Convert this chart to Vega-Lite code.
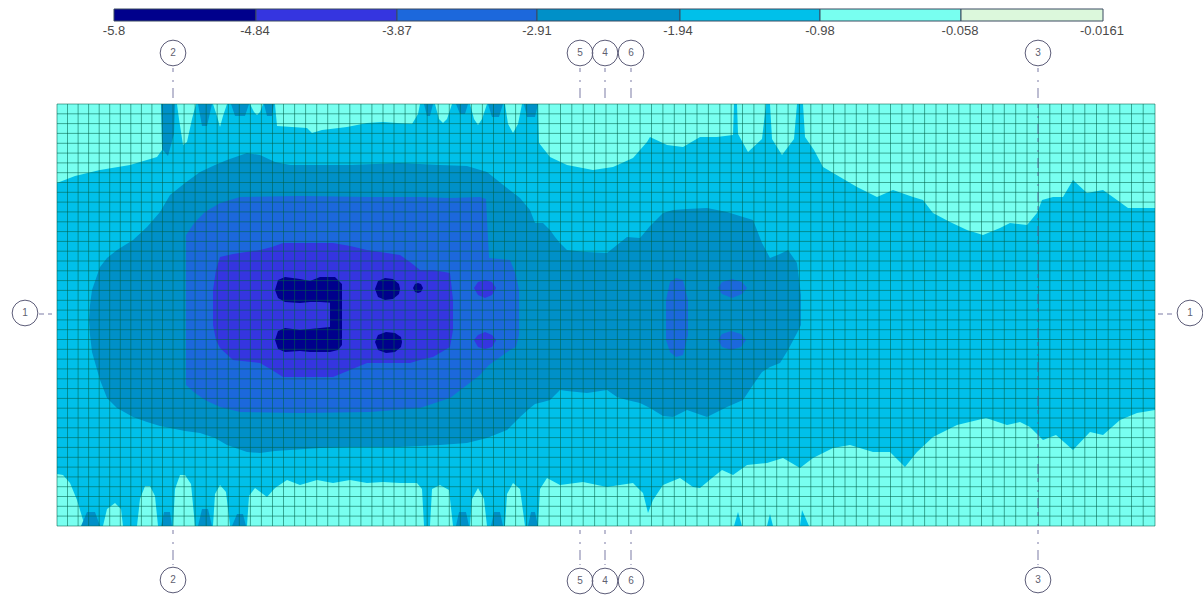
{"$schema":"https://vega.github.io/schema/vega-lite/v6.json","width":1203,"height":599,"padding":0,"autosize":"none","background":"#ffffff","config":{"view":{"stroke":null}},
"datasets":{
"contours":[
{"g":"base","b":"-1.94","x":0,"y":0,"y2":422},{"g":"base","b":"-1.94","x":1098,"y":0,"y2":422},
{"g":"lt","b":"-0.98","x":0,"y":0,"y2":79},{"g":"lt","b":"-0.98","x":18,"y":0,"y2":72},{"g":"lt","b":"-0.98","x":43,"y":0,"y2":66},{"g":"lt","b":"-0.98","x":73,"y":0,"y2":61},{"g":"lt","b":"-0.98","x":100,"y":0,"y2":53},{"g":"lt","b":"-0.98","x":105,"y":0,"y2":46},{"g":"lt","b":"-0.98","x":106,"y":0,"y2":0},{"g":"lt","b":"-0.98","x":120,"y":0,"y2":0},{"g":"lt","b":"-0.98","x":122,"y":0,"y2":15},{"g":"lt","b":"-0.98","x":126,"y":0,"y2":41},{"g":"lt","b":"-0.98","x":130,"y":0,"y2":38},{"g":"lt","b":"-0.98","x":135,"y":0,"y2":15},{"g":"lt","b":"-0.98","x":139,"y":0,"y2":0},{"g":"lt","b":"-0.98","x":156,"y":0,"y2":0},{"g":"lt","b":"-0.98","x":160,"y":0,"y2":12},{"g":"lt","b":"-0.98","x":163,"y":0,"y2":23},{"g":"lt","b":"-0.98","x":166,"y":0,"y2":12},{"g":"lt","b":"-0.98","x":170,"y":0,"y2":0},{"g":"lt","b":"-0.98","x":193,"y":0,"y2":0},{"g":"lt","b":"-0.98","x":197,"y":0,"y2":8},{"g":"lt","b":"-0.98","x":200,"y":0,"y2":11},{"g":"lt","b":"-0.98","x":203,"y":0,"y2":8},{"g":"lt","b":"-0.98","x":206,"y":0,"y2":0},{"g":"lt","b":"-0.98","x":218,"y":0,"y2":0},{"g":"lt","b":"-0.98","x":220,"y":0,"y2":22},{"g":"lt","b":"-0.98","x":250,"y":0,"y2":24},{"g":"lt","b":"-0.98","x":255,"y":0,"y2":29},{"g":"lt","b":"-0.98","x":265,"y":0,"y2":26},{"g":"lt","b":"-0.98","x":290,"y":0,"y2":23},{"g":"lt","b":"-0.98","x":310,"y":0,"y2":19},{"g":"lt","b":"-0.98","x":326,"y":0,"y2":18},{"g":"lt","b":"-0.98","x":340,"y":0,"y2":19},{"g":"lt","b":"-0.98","x":355,"y":0,"y2":20},{"g":"lt","b":"-0.98","x":361,"y":0,"y2":10},{"g":"lt","b":"-0.98","x":363,"y":0,"y2":0},{"g":"lt","b":"-0.98","x":378,"y":0,"y2":0},{"g":"lt","b":"-0.98","x":382,"y":0,"y2":15},{"g":"lt","b":"-0.98","x":386,"y":0,"y2":19},{"g":"lt","b":"-0.98","x":390,"y":0,"y2":15},{"g":"lt","b":"-0.98","x":395,"y":0,"y2":0},{"g":"lt","b":"-0.98","x":413,"y":0,"y2":0},{"g":"lt","b":"-0.98","x":417,"y":0,"y2":15},{"g":"lt","b":"-0.98","x":421,"y":0,"y2":21},{"g":"lt","b":"-0.98","x":425,"y":0,"y2":15},{"g":"lt","b":"-0.98","x":430,"y":0,"y2":0},{"g":"lt","b":"-0.98","x":448,"y":0,"y2":0},{"g":"lt","b":"-0.98","x":451,"y":0,"y2":20},{"g":"lt","b":"-0.98","x":456,"y":0,"y2":29},{"g":"lt","b":"-0.98","x":461,"y":0,"y2":20},{"g":"lt","b":"-0.98","x":465,"y":0,"y2":0},{"g":"lt","b":"-0.98","x":481,"y":0,"y2":0},{"g":"lt","b":"-0.98","x":482,"y":0,"y2":39},{"g":"lt","b":"-0.98","x":493,"y":0,"y2":53},{"g":"lt","b":"-0.98","x":510,"y":0,"y2":61},{"g":"lt","b":"-0.98","x":536,"y":0,"y2":66},{"g":"lt","b":"-0.98","x":556,"y":0,"y2":63},{"g":"lt","b":"-0.98","x":576,"y":0,"y2":54},{"g":"lt","b":"-0.98","x":590,"y":0,"y2":38},{"g":"lt","b":"-0.98","x":593,"y":0,"y2":33},{"g":"lt","b":"-0.98","x":610,"y":0,"y2":41},{"g":"lt","b":"-0.98","x":626,"y":0,"y2":43},{"g":"lt","b":"-0.98","x":643,"y":0,"y2":33},{"g":"lt","b":"-0.98","x":660,"y":0,"y2":33},{"g":"lt","b":"-0.98","x":676,"y":0,"y2":31},{"g":"lt","b":"-0.98","x":677,"y":0,"y2":0},{"g":"lt","b":"-0.98","x":680,"y":0,"y2":0},{"g":"lt","b":"-0.98","x":681,"y":0,"y2":30},{"g":"lt","b":"-0.98","x":691,"y":0,"y2":48},{"g":"lt","b":"-0.98","x":705,"y":0,"y2":35},{"g":"lt","b":"-0.98","x":709,"y":0,"y2":0},{"g":"lt","b":"-0.98","x":713,"y":0,"y2":0},{"g":"lt","b":"-0.98","x":715,"y":0,"y2":35},{"g":"lt","b":"-0.98","x":725,"y":0,"y2":51},{"g":"lt","b":"-0.98","x":737,"y":0,"y2":35},{"g":"lt","b":"-0.98","x":740,"y":0,"y2":0},{"g":"lt","b":"-0.98","x":746,"y":0,"y2":0},{"g":"lt","b":"-0.98","x":748,"y":0,"y2":33},{"g":"lt","b":"-0.98","x":757,"y":0,"y2":46},{"g":"lt","b":"-0.98","x":766,"y":0,"y2":63},{"g":"lt","b":"-0.98","x":800,"y":0,"y2":83},{"g":"lt","b":"-0.98","x":820,"y":0,"y2":93},{"g":"lt","b":"-0.98","x":836,"y":0,"y2":86},{"g":"lt","b":"-0.98","x":856,"y":0,"y2":93},{"g":"lt","b":"-0.98","x":866,"y":0,"y2":96},{"g":"lt","b":"-0.98","x":876,"y":0,"y2":109},{"g":"lt","b":"-0.98","x":893,"y":0,"y2":118},{"g":"lt","b":"-0.98","x":910,"y":0,"y2":126},{"g":"lt","b":"-0.98","x":926,"y":0,"y2":131},{"g":"lt","b":"-0.98","x":943,"y":0,"y2":124},{"g":"lt","b":"-0.98","x":953,"y":0,"y2":119},{"g":"lt","b":"-0.98","x":970,"y":0,"y2":121},{"g":"lt","b":"-0.98","x":980,"y":0,"y2":109},{"g":"lt","b":"-0.98","x":985,"y":0,"y2":96},{"g":"lt","b":"-0.98","x":996,"y":0,"y2":93},{"g":"lt","b":"-0.98","x":1006,"y":0,"y2":93},{"g":"lt","b":"-0.98","x":1016,"y":0,"y2":76},{"g":"lt","b":"-0.98","x":1030,"y":0,"y2":89},{"g":"lt","b":"-0.98","x":1046,"y":0,"y2":86},{"g":"lt","b":"-0.98","x":1060,"y":0,"y2":96},{"g":"lt","b":"-0.98","x":1071,"y":0,"y2":104},{"g":"lt","b":"-0.98","x":1098,"y":0,"y2":104},
{"g":"lb","b":"-0.98","x":0,"y":370,"y2":422},{"g":"lb","b":"-0.98","x":6,"y":371,"y2":422},{"g":"lb","b":"-0.98","x":13,"y":379,"y2":422},{"g":"lb","b":"-0.98","x":20,"y":396,"y2":422},{"g":"lb","b":"-0.98","x":26,"y":416,"y2":422},{"g":"lb","b":"-0.98","x":30,"y":422,"y2":422},{"g":"lb","b":"-0.98","x":46,"y":422,"y2":422},{"g":"lb","b":"-0.98","x":50,"y":405,"y2":422},{"g":"lb","b":"-0.98","x":58,"y":399,"y2":422},{"g":"lb","b":"-0.98","x":64,"y":405,"y2":422},{"g":"lb","b":"-0.98","x":66,"y":422,"y2":422},{"g":"lb","b":"-0.98","x":80,"y":422,"y2":422},{"g":"lb","b":"-0.98","x":83,"y":395,"y2":422},{"g":"lb","b":"-0.98","x":88,"y":382,"y2":422},{"g":"lb","b":"-0.98","x":93,"y":382,"y2":422},{"g":"lb","b":"-0.98","x":98,"y":392,"y2":422},{"g":"lb","b":"-0.98","x":101,"y":422,"y2":422},{"g":"lb","b":"-0.98","x":116,"y":422,"y2":422},{"g":"lb","b":"-0.98","x":118,"y":385,"y2":422},{"g":"lb","b":"-0.98","x":123,"y":371,"y2":422},{"g":"lb","b":"-0.98","x":128,"y":371,"y2":422},{"g":"lb","b":"-0.98","x":134,"y":380,"y2":422},{"g":"lb","b":"-0.98","x":138,"y":422,"y2":422},{"g":"lb","b":"-0.98","x":156,"y":422,"y2":422},{"g":"lb","b":"-0.98","x":158,"y":390,"y2":422},{"g":"lb","b":"-0.98","x":163,"y":381,"y2":422},{"g":"lb","b":"-0.98","x":169,"y":388,"y2":422},{"g":"lb","b":"-0.98","x":173,"y":422,"y2":422},{"g":"lb","b":"-0.98","x":190,"y":422,"y2":422},{"g":"lb","b":"-0.98","x":192,"y":392,"y2":422},{"g":"lb","b":"-0.98","x":198,"y":384,"y2":422},{"g":"lb","b":"-0.98","x":210,"y":393,"y2":422},{"g":"lb","b":"-0.98","x":218,"y":384,"y2":422},{"g":"lb","b":"-0.98","x":230,"y":376,"y2":422},{"g":"lb","b":"-0.98","x":243,"y":381,"y2":422},{"g":"lb","b":"-0.98","x":260,"y":376,"y2":422},{"g":"lb","b":"-0.98","x":276,"y":379,"y2":422},{"g":"lb","b":"-0.98","x":293,"y":376,"y2":422},{"g":"lb","b":"-0.98","x":310,"y":379,"y2":422},{"g":"lb","b":"-0.98","x":326,"y":378,"y2":422},{"g":"lb","b":"-0.98","x":343,"y":379,"y2":422},{"g":"lb","b":"-0.98","x":360,"y":379,"y2":422},{"g":"lb","b":"-0.98","x":365,"y":385,"y2":422},{"g":"lb","b":"-0.98","x":367,"y":422,"y2":422},{"g":"lb","b":"-0.98","x":373,"y":422,"y2":422},{"g":"lb","b":"-0.98","x":375,"y":385,"y2":422},{"g":"lb","b":"-0.98","x":383,"y":381,"y2":422},{"g":"lb","b":"-0.98","x":392,"y":386,"y2":422},{"g":"lb","b":"-0.98","x":396,"y":422,"y2":422},{"g":"lb","b":"-0.98","x":413,"y":422,"y2":422},{"g":"lb","b":"-0.98","x":415,"y":395,"y2":422},{"g":"lb","b":"-0.98","x":421,"y":384,"y2":422},{"g":"lb","b":"-0.98","x":427,"y":395,"y2":422},{"g":"lb","b":"-0.98","x":430,"y":422,"y2":422},{"g":"lb","b":"-0.98","x":448,"y":422,"y2":422},{"g":"lb","b":"-0.98","x":450,"y":390,"y2":422},{"g":"lb","b":"-0.98","x":456,"y":379,"y2":422},{"g":"lb","b":"-0.98","x":463,"y":385,"y2":422},{"g":"lb","b":"-0.98","x":468,"y":422,"y2":422},{"g":"lb","b":"-0.98","x":481,"y":422,"y2":422},{"g":"lb","b":"-0.98","x":483,"y":385,"y2":422},{"g":"lb","b":"-0.98","x":490,"y":374,"y2":422},{"g":"lb","b":"-0.98","x":503,"y":381,"y2":422},{"g":"lb","b":"-0.98","x":526,"y":378,"y2":422},{"g":"lb","b":"-0.98","x":550,"y":383,"y2":422},{"g":"lb","b":"-0.98","x":576,"y":379,"y2":422},{"g":"lb","b":"-0.98","x":586,"y":389,"y2":422},{"g":"lb","b":"-0.98","x":591,"y":409,"y2":422},{"g":"lb","b":"-0.98","x":596,"y":396,"y2":422},{"g":"lb","b":"-0.98","x":606,"y":381,"y2":422},{"g":"lb","b":"-0.98","x":623,"y":374,"y2":422},{"g":"lb","b":"-0.98","x":636,"y":383,"y2":422},{"g":"lb","b":"-0.98","x":643,"y":384,"y2":422},{"g":"lb","b":"-0.98","x":655,"y":374,"y2":422},{"g":"lb","b":"-0.98","x":665,"y":366,"y2":422},{"g":"lb","b":"-0.98","x":676,"y":371,"y2":422},{"g":"lb","b":"-0.98","x":690,"y":361,"y2":422},{"g":"lb","b":"-0.98","x":710,"y":359,"y2":422},{"g":"lb","b":"-0.98","x":726,"y":354,"y2":422},{"g":"lb","b":"-0.98","x":743,"y":364,"y2":422},{"g":"lb","b":"-0.98","x":756,"y":354,"y2":422},{"g":"lb","b":"-0.98","x":776,"y":344,"y2":422},{"g":"lb","b":"-0.98","x":793,"y":341,"y2":422},{"g":"lb","b":"-0.98","x":816,"y":348,"y2":422},{"g":"lb","b":"-0.98","x":833,"y":348,"y2":422},{"g":"lb","b":"-0.98","x":848,"y":363,"y2":422},{"g":"lb","b":"-0.98","x":860,"y":348,"y2":422},{"g":"lb","b":"-0.98","x":876,"y":333,"y2":422},{"g":"lb","b":"-0.98","x":900,"y":321,"y2":422},{"g":"lb","b":"-0.98","x":929,"y":314,"y2":422},{"g":"lb","b":"-0.98","x":950,"y":321,"y2":422},{"g":"lb","b":"-0.98","x":963,"y":318,"y2":422},{"g":"lb","b":"-0.98","x":973,"y":323,"y2":422},{"g":"lb","b":"-0.98","x":986,"y":336,"y2":422},{"g":"lb","b":"-0.98","x":999,"y":331,"y2":422},{"g":"lb","b":"-0.98","x":1016,"y":346,"y2":422},{"g":"lb","b":"-0.98","x":1033,"y":328,"y2":422},{"g":"lb","b":"-0.98","x":1046,"y":331,"y2":422},{"g":"lb","b":"-0.98","x":1063,"y":316,"y2":422},{"g":"lb","b":"-0.98","x":1080,"y":309,"y2":422},{"g":"lb","b":"-0.98","x":1098,"y":306,"y2":422},
{"g":"s1","b":"-1.94","x":677,"y":422,"y2":422},{"g":"s1","b":"-1.94","x":681,"y":408,"y2":422},{"g":"s1","b":"-1.94","x":685,"y":422,"y2":422},{"g":"s2","b":"-1.94","x":710,"y":422,"y2":422},{"g":"s2","b":"-1.94","x":713,"y":410,"y2":422},{"g":"s2","b":"-1.94","x":716,"y":422,"y2":422},{"g":"s3","b":"-1.94","x":743,"y":422,"y2":422},{"g":"s3","b":"-1.94","x":745,"y":406,"y2":422},{"g":"s3","b":"-1.94","x":752,"y":422,"y2":422},
{"g":"ta","b":"-2.91","x":104,"y":0,"y2":0},{"g":"ta","b":"-2.91","x":105,"y":0,"y2":45},{"g":"ta","b":"-2.91","x":111,"y":0,"y2":52},{"g":"ta","b":"-2.91","x":117,"y":0,"y2":30},{"g":"ta","b":"-2.91","x":118,"y":0,"y2":0},
{"g":"tb","b":"-2.91","x":141,"y":0,"y2":0},{"g":"tb","b":"-2.91","x":145,"y":0,"y2":22},{"g":"tb","b":"-2.91","x":150,"y":0,"y2":22},{"g":"tb","b":"-2.91","x":155,"y":0,"y2":0},
{"g":"tc","b":"-2.91","x":174,"y":0,"y2":0},{"g":"tc","b":"-2.91","x":178,"y":0,"y2":12},{"g":"tc","b":"-2.91","x":188,"y":0,"y2":12},{"g":"tc","b":"-2.91","x":192,"y":0,"y2":0},
{"g":"td","b":"-2.91","x":207,"y":0,"y2":0},{"g":"td","b":"-2.91","x":210,"y":0,"y2":12},{"g":"td","b":"-2.91","x":215,"y":0,"y2":12},{"g":"td","b":"-2.91","x":217,"y":0,"y2":0},
{"g":"te","b":"-2.91","x":367,"y":0,"y2":0},{"g":"te","b":"-2.91","x":370,"y":0,"y2":12},{"g":"te","b":"-2.91","x":373,"y":0,"y2":12},{"g":"te","b":"-2.91","x":376,"y":0,"y2":0},
{"g":"tf","b":"-2.91","x":399,"y":0,"y2":0},{"g":"tf","b":"-2.91","x":403,"y":0,"y2":10},{"g":"tf","b":"-2.91","x":408,"y":0,"y2":10},{"g":"tf","b":"-2.91","x":411,"y":0,"y2":0},
{"g":"tg","b":"-2.91","x":431,"y":0,"y2":0},{"g":"tg","b":"-2.91","x":435,"y":0,"y2":13},{"g":"tg","b":"-2.91","x":442,"y":0,"y2":13},{"g":"tg","b":"-2.91","x":446,"y":0,"y2":0},
{"g":"th","b":"-2.91","x":467,"y":0,"y2":0},{"g":"th","b":"-2.91","x":470,"y":0,"y2":13},{"g":"th","b":"-2.91","x":478,"y":0,"y2":13},{"g":"th","b":"-2.91","x":481,"y":0,"y2":0},
{"g":"bA","b":"-2.91","x":24,"y":422,"y2":422},{"g":"bA","b":"-2.91","x":30,"y":408,"y2":422},{"g":"bA","b":"-2.91","x":38,"y":408,"y2":422},{"g":"bA","b":"-2.91","x":43,"y":422,"y2":422},
{"g":"bB","b":"-2.91","x":104,"y":422,"y2":422},{"g":"bB","b":"-2.91","x":107,"y":408,"y2":422},{"g":"bB","b":"-2.91","x":113,"y":408,"y2":422},{"g":"bB","b":"-2.91","x":115,"y":422,"y2":422},
{"g":"bC","b":"-2.91","x":141,"y":422,"y2":422},{"g":"bC","b":"-2.91","x":145,"y":405,"y2":422},{"g":"bC","b":"-2.91","x":151,"y":405,"y2":422},{"g":"bC","b":"-2.91","x":155,"y":422,"y2":422},
{"g":"bD","b":"-2.91","x":175,"y":422,"y2":422},{"g":"bD","b":"-2.91","x":180,"y":410,"y2":422},{"g":"bD","b":"-2.91","x":186,"y":410,"y2":422},{"g":"bD","b":"-2.91","x":189,"y":422,"y2":422},
{"g":"bE","b":"-2.91","x":399,"y":422,"y2":422},{"g":"bE","b":"-2.91","x":402,"y":408,"y2":422},{"g":"bE","b":"-2.91","x":409,"y":408,"y2":422},{"g":"bE","b":"-2.91","x":412,"y":422,"y2":422},
{"g":"bF","b":"-2.91","x":434,"y":422,"y2":422},{"g":"bF","b":"-2.91","x":437,"y":408,"y2":422},{"g":"bF","b":"-2.91","x":443,"y":408,"y2":422},{"g":"bF","b":"-2.91","x":446,"y":422,"y2":422},
{"g":"bG","b":"-2.91","x":471,"y":422,"y2":422},{"g":"bG","b":"-2.91","x":474,"y":408,"y2":422},{"g":"bG","b":"-2.91","x":478,"y":408,"y2":422},{"g":"bG","b":"-2.91","x":481,"y":422,"y2":422},
{"g":"m4","b":"-2.91","x":32,"y":216,"y2":216},{"g":"m4","b":"-2.91","x":33,"y":201,"y2":231},{"g":"m4","b":"-2.91","x":35,"y":186,"y2":248},{"g":"m4","b":"-2.91","x":43,"y":163,"y2":276},{"g":"m4","b":"-2.91","x":50,"y":154,"y2":294},{"g":"m4","b":"-2.91","x":60,"y":146,"y2":304},{"g":"m4","b":"-2.91","x":76,"y":136,"y2":313},{"g":"m4","b":"-2.91","x":90,"y":123,"y2":318},{"g":"m4","b":"-2.91","x":103,"y":108,"y2":322},{"g":"m4","b":"-2.91","x":113,"y":91,"y2":324},{"g":"m4","b":"-2.91","x":128,"y":79,"y2":327},{"g":"m4","b":"-2.91","x":143,"y":68,"y2":329},{"g":"m4","b":"-2.91","x":158,"y":61,"y2":334},{"g":"m4","b":"-2.91","x":170,"y":56,"y2":341},{"g":"m4","b":"-2.91","x":190,"y":49,"y2":348},{"g":"m4","b":"-2.91","x":203,"y":51,"y2":349},{"g":"m4","b":"-2.91","x":218,"y":58,"y2":347},{"g":"m4","b":"-2.91","x":233,"y":61,"y2":346},{"g":"m4","b":"-2.91","x":263,"y":61,"y2":344},{"g":"m4","b":"-2.91","x":293,"y":61,"y2":343},{"g":"m4","b":"-2.91","x":343,"y":59,"y2":343},{"g":"m4","b":"-2.91","x":383,"y":61,"y2":341},{"g":"m4","b":"-2.91","x":410,"y":62,"y2":339},{"g":"m4","b":"-2.91","x":430,"y":68,"y2":334},{"g":"m4","b":"-2.91","x":450,"y":84,"y2":326},{"g":"m4","b":"-2.91","x":463,"y":94,"y2":313},{"g":"m4","b":"-2.91","x":473,"y":106,"y2":304},{"g":"m4","b":"-2.91","x":478,"y":119,"y2":300},{"g":"m4","b":"-2.91","x":486,"y":119,"y2":298},{"g":"m4","b":"-2.91","x":493,"y":126,"y2":296},{"g":"m4","b":"-2.91","x":498,"y":133,"y2":291},{"g":"m4","b":"-2.91","x":503,"y":139,"y2":286},{"g":"m4","b":"-2.91","x":510,"y":146,"y2":287},{"g":"m4","b":"-2.91","x":530,"y":148,"y2":289},{"g":"m4","b":"-2.91","x":550,"y":149,"y2":286},{"g":"m4","b":"-2.91","x":560,"y":141,"y2":293},{"g":"m4","b":"-2.91","x":570,"y":133,"y2":296},{"g":"m4","b":"-2.91","x":583,"y":134,"y2":299},{"g":"m4","b":"-2.91","x":593,"y":122,"y2":304},{"g":"m4","b":"-2.91","x":606,"y":109,"y2":312},{"g":"m4","b":"-2.91","x":616,"y":106,"y2":313},{"g":"m4","b":"-2.91","x":630,"y":105,"y2":306},{"g":"m4","b":"-2.91","x":650,"y":104,"y2":313},{"g":"m4","b":"-2.91","x":670,"y":108,"y2":303},{"g":"m4","b":"-2.91","x":686,"y":113,"y2":296},{"g":"m4","b":"-2.91","x":696,"y":116,"y2":281},{"g":"m4","b":"-2.91","x":705,"y":139,"y2":268},{"g":"m4","b":"-2.91","x":713,"y":154,"y2":263},{"g":"m4","b":"-2.91","x":723,"y":150,"y2":259},{"g":"m4","b":"-2.91","x":731,"y":146,"y2":246},{"g":"m4","b":"-2.91","x":740,"y":159,"y2":229},{"g":"m4","b":"-2.91","x":744,"y":191,"y2":221},
{"g":"m3","b":"-3.87","x":129,"y":131,"y2":281},{"g":"m3","b":"-3.87","x":138,"y":118,"y2":289},{"g":"m3","b":"-3.87","x":148,"y":108,"y2":296},{"g":"m3","b":"-3.87","x":163,"y":99,"y2":303},{"g":"m3","b":"-3.87","x":183,"y":93,"y2":308},{"g":"m3","b":"-3.87","x":243,"y":92,"y2":309},{"g":"m3","b":"-3.87","x":313,"y":93,"y2":308},{"g":"m3","b":"-3.87","x":363,"y":93,"y2":304},{"g":"m3","b":"-3.87","x":393,"y":94,"y2":294},{"g":"m3","b":"-3.87","x":423,"y":93,"y2":271},{"g":"m3","b":"-3.87","x":429,"y":95,"y2":264},{"g":"m3","b":"-3.87","x":432,"y":154,"y2":261},{"g":"m3","b":"-3.87","x":453,"y":156,"y2":246},{"g":"m3","b":"-3.87","x":459,"y":171,"y2":243},{"g":"m3","b":"-3.87","x":462,"y":186,"y2":231},
{"g":"st","b":"-3.87","x":609,"y":196,"y2":236},{"g":"st","b":"-3.87","x":613,"y":178,"y2":248},{"g":"st","b":"-3.87","x":619,"y":174,"y2":253},{"g":"st","b":"-3.87","x":626,"y":176,"y2":251},{"g":"st","b":"-3.87","x":631,"y":196,"y2":231},
{"g":"p1","b":"-3.87","x":661,"y":184,"y2":184},{"g":"p1","b":"-3.87","x":665,"y":178,"y2":190},{"g":"p1","b":"-3.87","x":675,"y":175,"y2":194},{"g":"p1","b":"-3.87","x":685,"y":178,"y2":190},{"g":"p1","b":"-3.87","x":690,"y":184,"y2":184},
{"g":"p2","b":"-3.87","x":661,"y":236,"y2":236},{"g":"p2","b":"-3.87","x":665,"y":230,"y2":243},{"g":"p2","b":"-3.87","x":674,"y":227,"y2":246},{"g":"p2","b":"-3.87","x":684,"y":230,"y2":243},{"g":"p2","b":"-3.87","x":689,"y":236,"y2":236},
{"g":"q1","b":"-4.84","x":417,"y":184,"y2":184},{"g":"q1","b":"-4.84","x":421,"y":178,"y2":191},{"g":"q1","b":"-4.84","x":428,"y":176,"y2":194},{"g":"q1","b":"-4.84","x":435,"y":178,"y2":191},{"g":"q1","b":"-4.84","x":439,"y":184,"y2":184},
{"g":"q2","b":"-4.84","x":417,"y":236,"y2":236},{"g":"q2","b":"-4.84","x":421,"y":231,"y2":243},{"g":"q2","b":"-4.84","x":428,"y":228,"y2":245},{"g":"q2","b":"-4.84","x":435,"y":231,"y2":243},{"g":"q2","b":"-4.84","x":439,"y":236,"y2":236},
{"g":"m2","b":"-4.84","x":156,"y":186,"y2":221},{"g":"m2","b":"-4.84","x":159,"y":166,"y2":236},{"g":"m2","b":"-4.84","x":163,"y":153,"y2":244},{"g":"m2","b":"-4.84","x":176,"y":150,"y2":256},{"g":"m2","b":"-4.84","x":203,"y":146,"y2":259},{"g":"m2","b":"-4.84","x":215,"y":143,"y2":266},{"g":"m2","b":"-4.84","x":226,"y":139,"y2":273},{"g":"m2","b":"-4.84","x":276,"y":139,"y2":273},{"g":"m2","b":"-4.84","x":293,"y":142,"y2":266},{"g":"m2","b":"-4.84","x":310,"y":146,"y2":259},{"g":"m2","b":"-4.84","x":343,"y":151,"y2":259},{"g":"m2","b":"-4.84","x":353,"y":158,"y2":259},{"g":"m2","b":"-4.84","x":363,"y":166,"y2":256},{"g":"m2","b":"-4.84","x":376,"y":166,"y2":253},{"g":"m2","b":"-4.84","x":393,"y":169,"y2":243},{"g":"m2","b":"-4.84","x":396,"y":196,"y2":226},
{"g":"d1","b":"-5.8","x":218,"y":186,"y2":186},{"g":"d1","b":"-5.8","x":221,"y":176,"y2":194},{"g":"d1","b":"-5.8","x":228,"y":173,"y2":198},{"g":"d1","b":"-5.8","x":243,"y":175,"y2":199},{"g":"d1","b":"-5.8","x":253,"y":177,"y2":198},{"g":"d1","b":"-5.8","x":263,"y":173,"y2":198},{"g":"d1","b":"-5.8","x":278,"y":173,"y2":199},{"g":"d1","b":"-5.8","x":285,"y":180,"y2":199},
{"g":"d2","b":"-5.8","x":273,"y":196,"y2":226},{"g":"d2","b":"-5.8","x":275,"y":194,"y2":228},{"g":"d2","b":"-5.8","x":285,"y":185,"y2":235},
{"g":"d3","b":"-5.8","x":218,"y":236,"y2":236},{"g":"d3","b":"-5.8","x":221,"y":227,"y2":245},{"g":"d3","b":"-5.8","x":228,"y":224,"y2":248},{"g":"d3","b":"-5.8","x":243,"y":226,"y2":247},{"g":"d3","b":"-5.8","x":253,"y":225,"y2":248},{"g":"d3","b":"-5.8","x":273,"y":223,"y2":248},{"g":"d3","b":"-5.8","x":281,"y":231,"y2":246},{"g":"d3","b":"-5.8","x":285,"y":235,"y2":241},
{"g":"d4","b":"-5.8","x":318,"y":185,"y2":185},{"g":"d4","b":"-5.8","x":321,"y":177,"y2":193},{"g":"d4","b":"-5.8","x":328,"y":174,"y2":196},{"g":"d4","b":"-5.8","x":336,"y":175,"y2":195},{"g":"d4","b":"-5.8","x":342,"y":180,"y2":190},{"g":"d4","b":"-5.8","x":343,"y":185,"y2":185},
{"g":"d5","b":"-5.8","x":318,"y":238,"y2":238},{"g":"d5","b":"-5.8","x":321,"y":231,"y2":246},{"g":"d5","b":"-5.8","x":329,"y":228,"y2":249},{"g":"d5","b":"-5.8","x":338,"y":229,"y2":248},{"g":"d5","b":"-5.8","x":344,"y":233,"y2":243},{"g":"d5","b":"-5.8","x":345,"y":238,"y2":238},
{"g":"d6","b":"-5.8","x":356,"y":184,"y2":184},{"g":"d6","b":"-5.8","x":358,"y":180,"y2":188},{"g":"d6","b":"-5.8","x":361,"y":179,"y2":189},{"g":"d6","b":"-5.8","x":364,"y":180,"y2":188},{"g":"d6","b":"-5.8","x":366,"y":184,"y2":184}
],
"meshX":[{"x":0,"y":0,"y2":422},{"x":10.5,"y":0,"y2":422},{"x":21.1,"y":0,"y2":422},{"x":31.6,"y":0,"y2":422},{"x":42.2,"y":0,"y2":422},{"x":52.7,"y":0,"y2":422},{"x":63.3,"y":0,"y2":422},{"x":73.8,"y":0,"y2":422},{"x":84.4,"y":0,"y2":422},{"x":94.9,"y":0,"y2":422},{"x":105.5,"y":0,"y2":422},{"x":116,"y":0,"y2":422},{"x":127.1,"y":0,"y2":422},{"x":138.1,"y":0,"y2":422},{"x":149.2,"y":0,"y2":422},{"x":160.2,"y":0,"y2":422},{"x":171.3,"y":0,"y2":422},{"x":182.3,"y":0,"y2":422},{"x":193.4,"y":0,"y2":422},{"x":204.4,"y":0,"y2":422},{"x":215.5,"y":0,"y2":422},{"x":226.5,"y":0,"y2":422},{"x":237.6,"y":0,"y2":422},{"x":248.6,"y":0,"y2":422},{"x":259.7,"y":0,"y2":422},{"x":270.7,"y":0,"y2":422},{"x":281.8,"y":0,"y2":422},{"x":292.8,"y":0,"y2":422},{"x":303.9,"y":0,"y2":422},{"x":314.9,"y":0,"y2":422},{"x":326,"y":0,"y2":422},{"x":337,"y":0,"y2":422},{"x":348.1,"y":0,"y2":422},{"x":359.1,"y":0,"y2":422},{"x":370.2,"y":0,"y2":422},{"x":381.2,"y":0,"y2":422},{"x":392.3,"y":0,"y2":422},{"x":403.3,"y":0,"y2":422},{"x":414.4,"y":0,"y2":422},{"x":425.4,"y":0,"y2":422},{"x":436.5,"y":0,"y2":422},{"x":447.5,"y":0,"y2":422},{"x":458.6,"y":0,"y2":422},{"x":469.6,"y":0,"y2":422},{"x":480.7,"y":0,"y2":422},{"x":492.1,"y":0,"y2":422},{"x":503.5,"y":0,"y2":422},{"x":514.8,"y":0,"y2":422},{"x":526.2,"y":0,"y2":422},{"x":537.6,"y":0,"y2":422},{"x":549,"y":0,"y2":422},{"x":560.4,"y":0,"y2":422},{"x":571.7,"y":0,"y2":422},{"x":583.1,"y":0,"y2":422},{"x":594.5,"y":0,"y2":422},{"x":605.9,"y":0,"y2":422},{"x":617.3,"y":0,"y2":422},{"x":628.6,"y":0,"y2":422},{"x":640,"y":0,"y2":422},{"x":651.4,"y":0,"y2":422},{"x":662.8,"y":0,"y2":422},{"x":674.2,"y":0,"y2":422},{"x":685.5,"y":0,"y2":422},{"x":696.9,"y":0,"y2":422},{"x":708.3,"y":0,"y2":422},{"x":719.7,"y":0,"y2":422},{"x":731.1,"y":0,"y2":422},{"x":742.4,"y":0,"y2":422},{"x":753.8,"y":0,"y2":422},{"x":765.2,"y":0,"y2":422},{"x":776.6,"y":0,"y2":422},{"x":788,"y":0,"y2":422},{"x":799.3,"y":0,"y2":422},{"x":810.7,"y":0,"y2":422},{"x":822.1,"y":0,"y2":422},{"x":833.5,"y":0,"y2":422},{"x":844.9,"y":0,"y2":422},{"x":856.2,"y":0,"y2":422},{"x":867.6,"y":0,"y2":422},{"x":879,"y":0,"y2":422},{"x":890.4,"y":0,"y2":422},{"x":901.8,"y":0,"y2":422},{"x":913.1,"y":0,"y2":422},{"x":924.5,"y":0,"y2":422},{"x":935.9,"y":0,"y2":422},{"x":947.3,"y":0,"y2":422},{"x":958.7,"y":0,"y2":422},{"x":970,"y":0,"y2":422},{"x":981.4,"y":0,"y2":422},{"x":992.8,"y":0,"y2":422},{"x":1004.5,"y":0,"y2":422},{"x":1016.1,"y":0,"y2":422},{"x":1027.8,"y":0,"y2":422},{"x":1039.5,"y":0,"y2":422},{"x":1051.2,"y":0,"y2":422},{"x":1062.8,"y":0,"y2":422},{"x":1074.5,"y":0,"y2":422},{"x":1086.2,"y":0,"y2":422},{"x":1098,"y":0,"y2":422}],
"meshY":[{"x":0,"x2":1098,"y":0},{"x":0,"x2":1098,"y":9.8},{"x":0,"x2":1098,"y":19.6},{"x":0,"x2":1098,"y":29.4},{"x":0,"x2":1098,"y":39.3},{"x":0,"x2":1098,"y":49.1},{"x":0,"x2":1098,"y":58.9},{"x":0,"x2":1098,"y":68.7},{"x":0,"x2":1098,"y":78.5},{"x":0,"x2":1098,"y":88.3},{"x":0,"x2":1098,"y":98.1},{"x":0,"x2":1098,"y":107.9},{"x":0,"x2":1098,"y":117.8},{"x":0,"x2":1098,"y":127.6},{"x":0,"x2":1098,"y":137.4},{"x":0,"x2":1098,"y":147.2},{"x":0,"x2":1098,"y":157},{"x":0,"x2":1098,"y":166.8},{"x":0,"x2":1098,"y":176.6},{"x":0,"x2":1098,"y":186.4},{"x":0,"x2":1098,"y":196.3},{"x":0,"x2":1098,"y":206.1},{"x":0,"x2":1098,"y":215.9},{"x":0,"x2":1098,"y":225.7},{"x":0,"x2":1098,"y":235.5},{"x":0,"x2":1098,"y":245.3},{"x":0,"x2":1098,"y":255.1},{"x":0,"x2":1098,"y":264.9},{"x":0,"x2":1098,"y":274.8},{"x":0,"x2":1098,"y":284.6},{"x":0,"x2":1098,"y":294.4},{"x":0,"x2":1098,"y":304.2},{"x":0,"x2":1098,"y":314},{"x":0,"x2":1098,"y":323.8},{"x":0,"x2":1098,"y":333.6},{"x":0,"x2":1098,"y":343.4},{"x":0,"x2":1098,"y":353.3},{"x":0,"x2":1098,"y":363.1},{"x":0,"x2":1098,"y":372.9},{"x":0,"x2":1098,"y":382.7},{"x":0,"x2":1098,"y":392.5},{"x":0,"x2":1098,"y":402.3},{"x":0,"x2":1098,"y":412.1},{"x":0,"x2":1098,"y":422}],
"bar":[{"b":"-5.8","x":57,"x2":199,"y":-95,"y2":-83},{"b":"-4.84","x":199,"x2":340,"y":-95,"y2":-83},{"b":"-3.87","x":340,"x2":480,"y":-95,"y2":-83},{"b":"-2.91","x":480,"x2":623,"y":-95,"y2":-83},{"b":"-1.94","x":623,"x2":763,"y":-95,"y2":-83},{"b":"-0.98","x":763,"x2":904,"y":-95,"y2":-83},{"b":"-0.058","x":904,"x2":1046,"y":-95,"y2":-83}],
"barLabels":[{"t":"-5.8","x":57,"y":-73},{"t":"-4.84","x":198,"y":-73},{"t":"-3.87","x":340,"y":-73},{"t":"-2.91","x":480,"y":-73},{"t":"-1.94","x":621,"y":-73},{"t":"-0.98","x":763,"y":-73},{"t":"-0.058","x":903,"y":-73},{"t":"-0.0161","x":1045,"y":-73}],
"bubbles":[{"t":"2","x":116,"y":-51},{"t":"5","x":523,"y":-51},{"t":"4","x":548,"y":-51},{"t":"6","x":574,"y":-51},{"t":"3","x":981,"y":-51},{"t":"2","x":116,"y":476},{"t":"5","x":523,"y":477},{"t":"4","x":548,"y":477},{"t":"6","x":574,"y":477},{"t":"3","x":981,"y":476},{"t":"1","x":-32,"y":209},{"t":"1","x":1133,"y":209}],
"stubsV":[{"x":116,"y":-36,"y2":-4},{"x":523,"y":-36,"y2":-4},{"x":548,"y":-36,"y2":-4},{"x":574,"y":-36,"y2":-4},{"x":981,"y":-36,"y2":-4},{"x":116,"y":426,"y2":461},{"x":523,"y":426,"y2":461},{"x":548,"y":426,"y2":461},{"x":574,"y":426,"y2":461},{"x":981,"y":426,"y2":461},{"x":981,"y":0,"y2":422}],
"stubsH":[{"x":-18,"x2":-5,"y":210},{"x":1101,"x2":1119,"y":210}]
},
"encoding":{"x":{"field":"x","type":"quantitative","scale":{"domain":[-57,1146],"nice":false,"zero":false},"axis":null},"y":{"field":"y","type":"quantitative","scale":{"domain":[-104,495],"reverse":true,"nice":false,"zero":false},"axis":null}},
"layer":[
{"data":{"name":"contours"},"mark":{"type":"area","orient":"vertical","interpolate":"linear"},"encoding":{"y2":{"field":"y2"},"detail":{"field":"g"},"color":{"field":"b","type":"nominal","legend":null,"scale":{"domain":["-5.8","-4.84","-3.87","-2.91","-1.94","-0.98","-0.058"],"range":["#00008c","#3535e0","#1c68dc","#0090c8","#00c0ea","#78fff0","#dcf8dc"]}}}},
{"data":{"name":"meshX"},"mark":{"type":"rule","color":"#006048","opacity":0.55,"strokeWidth":1},"encoding":{"y2":{"field":"y2"}}},
{"data":{"name":"meshY"},"mark":{"type":"rule","color":"#006048","opacity":0.55,"strokeWidth":1},"encoding":{"x2":{"field":"x2"}}},
{"data":{"name":"bar"},"mark":{"type":"rect","stroke":"#3a4a60","strokeWidth":1},"encoding":{"x2":{"field":"x2"},"y2":{"field":"y2"},"color":{"field":"b","type":"nominal","legend":null}}},
{"data":{"name":"barLabels"},"mark":{"type":"text","font":"Liberation Sans","fontSize":13,"color":"#4a4a4a","align":"center","baseline":"middle"},"encoding":{"text":{"field":"t"}}},
{"data":{"name":"stubsV"},"mark":{"type":"rule","color":"#5a5a90","opacity":0.8,"strokeWidth":1,"strokeDash":[4,8,2,6,10,4]},"encoding":{"y2":{"field":"y2"}}},
{"data":{"name":"stubsH"},"mark":{"type":"rule","color":"#5a5a90","opacity":0.8,"strokeWidth":1,"strokeDash":[5,4]},"encoding":{"x2":{"field":"x2"}}},
{"data":{"name":"bubbles"},"mark":{"type":"point","shape":"circle","size":660,"filled":false,"stroke":"#5c5c78","strokeWidth":1,"opacity":1},"encoding":{}},
{"data":{"name":"bubbles"},"mark":{"type":"text","font":"Liberation Sans","fontSize":10,"color":"#606070","align":"center","baseline":"middle"},"encoding":{"text":{"field":"t"}}}
]}
